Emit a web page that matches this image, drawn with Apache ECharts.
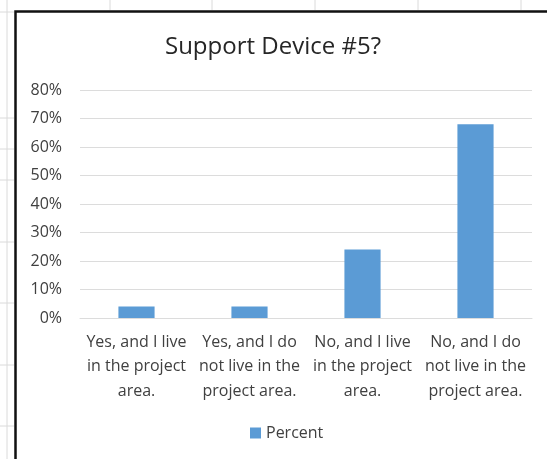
<!DOCTYPE html>
<html>
<head>
<meta charset="utf-8">
<script src="https://cdn.jsdelivr.net/npm/echarts@6/dist/echarts.min.js"></script>
<style>
  html, body { margin: 0; padding: 0; background: #fff; }
  #chart { width: 547px; height: 459px; }
</style>
</head>
<body>
<div id="chart"></div>
<script>
// Survey answers and their share of responses
const categories = [
  'Yes, and I live\nin the project\narea.',
  'Yes, and I do\nnot live in the\nproject area.',
  'No, and I live\nin the project\narea.',
  'No, and I do\nnot live in the\nproject area.'
];
const percentValues = [0.04, 0.04, 0.24, 0.68];
const seriesName = 'Percent';
const chartTitle = 'Support Device #5?';

const FONT = '"Open Sans"';
const TEXT = '#404040';
const SHEET_GRID = '#dadada';

// Spreadsheet cell lines visible around the embedded chart
const sheetLines = [];
[110, 212, 315, 418, 521].forEach(x => sheetLines.push({ x1: x, y1: 0, x2: x, y2: 10 }));
sheetLines.push({ x1: 7, y1: 0, x2: 7, y2: 459 });
[12, 118, 149, 180, 242, 303, 365, 426].forEach(y => sheetLines.push({ x1: 0, y1: y, x2: 14, y2: y }));

const chart = echarts.init(document.getElementById('chart'), null, { renderer: 'canvas' });

chart.setOption({
  backgroundColor: '#ffffff',
  animation: false,
  textStyle: { fontFamily: FONT },
  graphic: [
    ...sheetLines.map(s => ({
      type: 'line', z: -10, silent: true,
      shape: s,
      style: { stroke: SHEET_GRID, lineWidth: 1 }
    })),
    {
      type: 'rect', z: 100, silent: true,
      shape: { x: 15.5, y: 11.5, width: 600, height: 600 },
      style: { fill: null, stroke: '#111', lineWidth: 2.5 }
    }
  ],
  title: {
    text: chartTitle,
    left: 268,
    top: 30,
    textAlign: 'center',
    textStyle: { fontFamily: FONT, fontSize: 24, fontWeight: 'normal', color: '#262626' }
  },
  legend: {
    data: [seriesName],
    bottom: 13,
    left: 245,
    itemWidth: 11,
    itemHeight: 11,
    itemGap: 6,
    icon: 'rect',
    textStyle: { fontFamily: FONT, fontSize: 16, color: TEXT }
  },
  grid: { left: 80, right: 15, top: 90, bottom: 141, containLabel: false },
  xAxis: {
    type: 'category',
    data: categories,
    axisTick: { show: false },
    axisLine: { show: true, lineStyle: { color: '#dcdcdc', width: 1 } },
    axisLabel: {
      interval: 0,
      margin: 12,
      fontFamily: FONT,
      fontSize: 16,
      lineHeight: 24.5,
      color: TEXT,
      align: 'center'
    }
  },
  yAxis: {
    type: 'value',
    min: 0,
    max: 0.8,
    interval: 0.1,
    axisLine: { show: false },
    axisTick: { show: false },
    splitLine: { lineStyle: { color: '#dcdcdc', width: 1 } },
    axisLabel: {
      margin: 18,
      fontFamily: FONT,
      fontSize: 16,
      color: TEXT,
      formatter: v => Math.round(v * 100) + '%'
    }
  },
  series: [{
    name: seriesName,
    type: 'bar',
    data: percentValues,
    barWidth: '32%',
    itemStyle: { color: '#5b9bd5' }
  }]
});
</script>
</body>
</html>
